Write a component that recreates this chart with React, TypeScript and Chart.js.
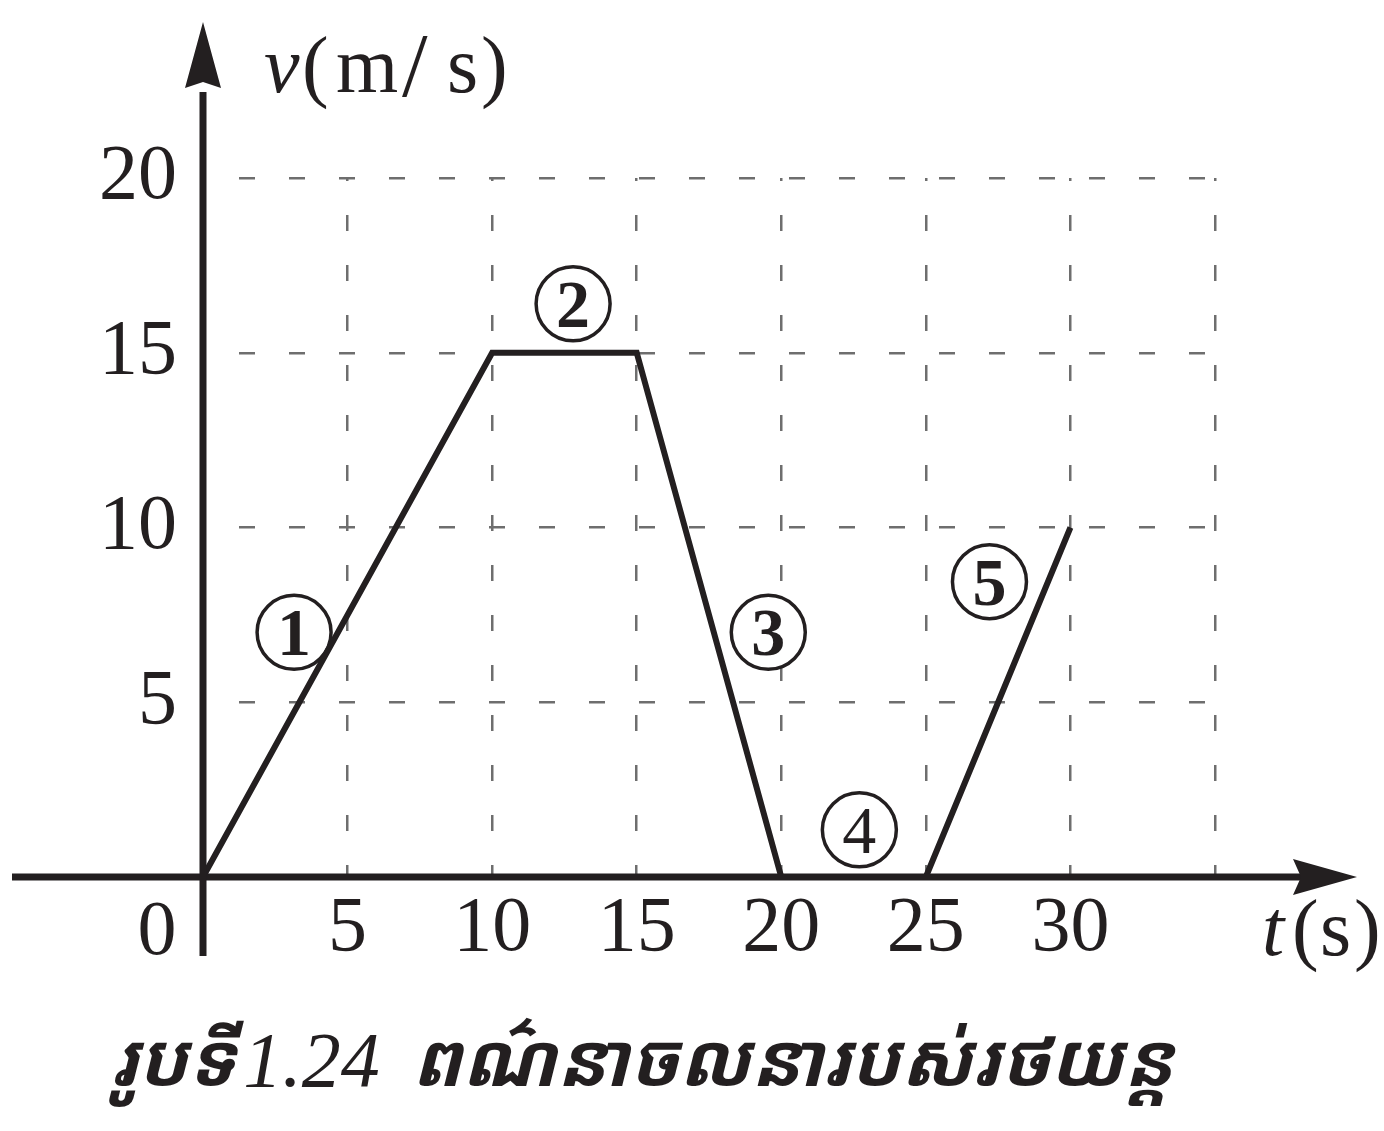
import { useEffect, useRef } from 'react';
import { Chart, registerables } from 'chart.js';

Chart.register(...registerables);

// Velocity–time graph of a car: t (s) against v (m/s)
const TIME_S = [0, 10, 15, 20, 25, 30];
const SPEED_MS = [0, 15, 15, 0, 0, 10];

const X_TICK_LABELS = [5, 10, 15, 20, 25, 30];
const Y_TICK_LABELS = [5, 10, 15, 20];

// Segment markers ①–⑤ (anchored in data units)
const SEGMENT_NAMES = ['1', '2', '3', '4', '5'];
const SEGMENT_T = [3.15, 12.8, 19.55, 22.7, 27.2];
const SEGMENT_V = [7.0, 16.4, 7.0, 1.35, 8.45];
const SEGMENT_BOLD = [true, true, true, false, true];

const CAPTION_LEAD = 'រូបទី';
const CAPTION_NUMBER = '1.24';
const CAPTION_TEXT = 'ពណ៌នាចលនារបស់រថយន្ត';

const INK = '#231f20';
const GRID = '#6e6e6e';
const SERIF = '"Liberation Serif", "Times New Roman", serif';
const KHMER = '"Noto Sans Khmer", "Noto Serif Khmer", "Khmer OS", "Khmer OS System", sans-serif';

const W = 1384;
const H = 1131;

const overlay = {
  id: 'vtOverlay',
  beforeDatasetsDraw(chart: any) {
    const { ctx, scales } = chart;
    const xs = scales.x;
    const ys = scales.y;
    ctx.save();
    SEGMENT_NAMES.forEach((name, i) => {
      const cx = xs.getPixelForValue(SEGMENT_T[i]);
      const cy = ys.getPixelForValue(SEGMENT_V[i]);
      ctx.beginPath();
      ctx.ellipse(cx, cy, 37, 37, 0, 0, Math.PI * 2);
      ctx.fillStyle = '#ffffff';
      ctx.fill();
      ctx.lineWidth = 3.5;
      ctx.strokeStyle = INK;
      ctx.stroke();
      ctx.fillStyle = INK;
      ctx.font = `${SEGMENT_BOLD[i] ? 'bold ' : ''}68px ${SERIF}`;
      ctx.textAlign = 'center';
      ctx.textBaseline = 'alphabetic';
      ctx.fillText(name, cx, cy + 23);
    });
    ctx.restore();
  },
  afterDatasetsDraw(chart: any) {
    const { ctx, scales } = chart;
    const x0 = scales.x.getPixelForValue(0);
    const y0 = scales.y.getPixelForValue(0);
    ctx.save();
    ctx.strokeStyle = INK;
    ctx.fillStyle = INK;
    ctx.lineWidth = 7;
    ctx.lineCap = 'butt';

    // horizontal axis with arrow head
    ctx.beginPath();
    ctx.moveTo(12, y0);
    ctx.lineTo(x0 + 1100, y0);
    ctx.stroke();
    ctx.beginPath();
    ctx.moveTo(x0 + 1154, y0);
    ctx.lineTo(x0 + 1090, y0 - 18);
    ctx.lineTo(x0 + 1098, y0);
    ctx.lineTo(x0 + 1090, y0 + 18);
    ctx.closePath();
    ctx.fill();

    // vertical axis with arrow head
    ctx.beginPath();
    ctx.moveTo(x0, y0 + 79);
    ctx.lineTo(x0, 92);
    ctx.stroke();
    ctx.beginPath();
    ctx.moveTo(x0, 22);
    ctx.lineTo(x0 - 18, 88);
    ctx.lineTo(x0, 82);
    ctx.lineTo(x0 + 18, 88);
    ctx.closePath();
    ctx.fill();

    ctx.textBaseline = 'alphabetic';
    ctx.textAlign = 'left';

    // v(m/s)
    ctx.font = `italic 80px ${SERIF}`;
    ctx.fillText('v', 264, 92);
    ctx.font = `80px ${SERIF}`;
    ctx.fillText('(', 302, 92);
    ctx.fillText('m', 336, 92);
    ctx.fillText('s', 447, 92);
    ctx.fillText(')', 481, 92);
    ctx.font = `92px ${SERIF}`;
    ctx.fillText('/', 402, 96);

    // t(s)
    ctx.font = `italic 80px ${SERIF}`;
    ctx.fillText('t', 1262, 955);
    ctx.font = `80px ${SERIF}`;
    ctx.fillText('(', 1292, 955);
    ctx.fillText('s', 1320, 955);
    ctx.fillText(')', 1354, 955);

    // origin
    ctx.font = `78px ${SERIF}`;
    ctx.textAlign = 'center';
    ctx.fillText('0', x0 - 46, 954);

    // caption
    ctx.textAlign = 'left';
    const leadFont = `italic bold 74px ${KHMER}`;
    const numFont = `italic 78px ${SERIF}`;
    ctx.font = leadFont;
    const wLead = ctx.measureText(CAPTION_LEAD).width;
    const wText = ctx.measureText(CAPTION_TEXT).width;
    ctx.font = numFont;
    const wNum = ctx.measureText(CAPTION_NUMBER).width;
    const gap = 32;
    const total = wLead + 8 + wNum + gap + wText;
    let cx = 642 - total / 2;
    const base = 1086;
    ctx.font = leadFont;
    ctx.fillText(CAPTION_LEAD, cx, base);
    cx += wLead + 8;
    ctx.font = numFont;
    ctx.fillText(CAPTION_NUMBER, cx, base);
    cx += wNum + gap;
    ctx.font = leadFont;
    ctx.fillText(CAPTION_TEXT, cx, base);
    ctx.restore();
  },
};

export default function App() {
  const canvasRef = useRef<HTMLCanvasElement | null>(null);

  useEffect(() => {
    document.body.style.margin = '0';
    const canvas = canvasRef.current;
    if (!canvas) return;
    const chart = new Chart(canvas, {
      type: 'scatter',
      data: {
        datasets: [
          {
            data: TIME_S.map((t, i) => ({ x: t, y: SPEED_MS[i] })),
            showLine: true,
            borderColor: INK,
            borderWidth: 6,
            borderJoinStyle: 'miter',
            pointRadius: 0,
            clip: false,
          } as any,
        ],
      },
      options: {
        animation: false,
        responsive: false,
        events: [],
        layout: { padding: { left: 0, right: 169, top: 178, bottom: 0 } },
        plugins: { legend: { display: false }, tooltip: { enabled: false } },
        scales: {
          x: {
            type: 'linear',
            position: 'bottom',
            min: 0,
            max: 35,
            afterFit: (s: any) => {
              s.height = 254;
            },
            grid: { color: GRID, lineWidth: 2.5, drawTicks: false },
            border: { display: false, dash: [16, 34], dashOffset: 13 },
            ticks: {
              stepSize: 5,
              padding: 6,
              color: INK,
              font: { family: SERIF, size: 78 },
              maxRotation: 0,
              autoSkip: false,
              callback: (v: any) => (X_TICK_LABELS.includes(Number(v)) ? String(v) : ''),
            },
          },
          y: {
            type: 'linear',
            position: 'left',
            min: 0,
            max: 20,
            afterFit: (s: any) => {
              s.width = 203;
            },
            grid: { color: GRID, lineWidth: 2.5, drawTicks: false },
            border: { display: false, dash: [16, 34], dashOffset: 14 },
            ticks: {
              stepSize: 5,
              padding: 26,
              color: INK,
              font: { family: SERIF, size: 78 },
              autoSkip: false,
              callback: (v: any) => (Y_TICK_LABELS.includes(Number(v)) ? String(v) : ''),
            },
          },
        },
      },
      plugins: [overlay],
    });
    return () => chart.destroy();
  }, []);

  return (
    <div style={{ width: W, height: H, overflow: 'hidden', background: '#fff' }}>
      <canvas ref={canvasRef} width={W} height={H} style={{ display: 'block' }} />
    </div>
  );
}
